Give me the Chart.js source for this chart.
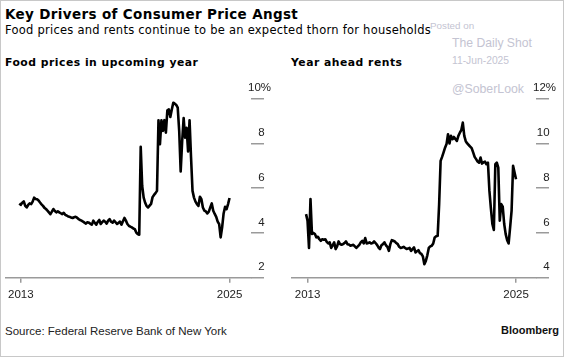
<!DOCTYPE html>
<html>
<head>
<meta charset="utf-8">
<script src="https://cdn.jsdelivr.net/npm/chart.js@4.4.1/dist/chart.umd.min.js"></script>
<style>
  html, body { margin: 0; padding: 0; background: #fff; }
  #wrap { position: relative; width: 564px; height: 357px; box-sizing: border-box; border: 1px solid #c8c8c8; overflow: hidden; background: #fff; }
  .t { position: absolute; white-space: nowrap; }
  #title { left: 4px; top: 5px; font: bold 13.5px/16px "DejaVu Sans"; letter-spacing: 0.35px; color: #000; }
  #sub { left: 4px; top: 21.5px; font: 11.5px/14px "DejaVu Sans"; letter-spacing: 0.25px; color: #000; }
  .ptitle { top: 55px; font: bold 10.8px/13px "DejaVu Sans"; letter-spacing: 0.5px; color: #000; }
  #src { left: 4px; top: 323px; font: 11.5px/14px "Liberation Sans"; color: #222; }
  #bbg { right: 4px; top: 322px; font: bold 11px/14px "Liberation Sans"; color: #111; }
  .wm { color: #c4c4d2; font-family: "Liberation Sans"; }
  canvas { position: absolute; }
</style>
</head>
<body>
<div id="wrap">
  <div class="t" id="title">Key Drivers of Consumer Price Angst</div>
  <div class="t" id="sub">Food prices and rents continue to be an expected thorn for households</div>
  <div class="t ptitle" style="left:4px">Food prices in upcoming year</div>
  <div class="t ptitle" style="left:290px">Year ahead rents</div>
  <div class="t wm" style="left:429px; top:19px; font-size:9.8px; line-height:12px">Posted on</div>
  <div class="t wm" style="left:451px; top:34.5px; font-size:12.2px; line-height:15px">The Daily Shot</div>
  <div class="t wm" style="left:451px; top:53.5px; font-size:10.3px; line-height:12px">11-Jun-2025</div>
  <div class="t wm" style="left:451px; top:81px; font-size:12.3px; line-height:15px">@SoberLook</div>
  <canvas id="food" width="282" height="235" style="left:0px; top:70px; width:282px; height:235px"></canvas>
  <canvas id="rent" width="282" height="235" style="left:282px; top:70px; width:282px; height:235px"></canvas>
  <div class="t" id="src">Source: Federal Reserve Bank of New York</div>
  <div class="t" id="bbg">Bloomberg</div>
</div>
<script>
// Monthly survey readings, Jun 2013 .. 2025 (percent)
const foodValues = [
  5.32, 5.26, 5.35, 5.41, 5.21, 5.14, 5.25, 5.32, 5.29, 5.40,
  5.58, 5.52, 5.51, 5.45, 5.36, 5.28, 5.21, 5.12, 5.07, 5.00,
  4.92, 4.84, 4.95, 5.07, 4.98, 4.92, 4.97, 4.92, 4.88, 4.84,
  4.90, 4.81, 4.78, 4.74, 4.72, 4.69, 4.67, 4.70, 4.72, 4.68,
  4.62, 4.58, 4.55, 4.51, 4.46, 4.42, 4.48, 4.46, 4.41, 4.37,
  4.55, 4.45, 4.37, 4.50, 4.58, 4.40, 4.48, 4.55, 4.50, 4.42,
  4.55, 4.62, 4.50, 4.46, 4.55, 4.48, 4.40, 4.45, 4.51, 4.37,
  4.52, 4.67, 4.55, 4.40, 4.32, 4.28, 4.25, 4.20, 4.17, 4.02,
  3.95, 3.92, 7.85, 6.10, 5.58, 5.35, 5.20, 5.14, 5.22, 5.30,
  5.60, 5.70, 5.78, 5.88, 9.04, 7.97, 9.04, 8.56, 9.04, 8.48,
  9.48, 9.52, 9.18, 9.52, 9.82, 9.78, 9.72, 9.60, 8.56, 6.75,
  8.10, 9.13, 8.26, 8.70, 7.64, 9.04, 7.37, 5.88, 5.58, 5.40,
  5.29, 5.21, 5.62, 5.51, 5.14, 5.00, 4.96, 4.87, 4.95, 5.14,
  5.32, 4.99, 4.85, 4.72, 4.51, 4.39, 3.80, 4.25, 4.87, 5.17,
  5.06, 5.29, 5.56
];
const rentValues = [
  6.84, 6.55, 5.33, 7.51, 5.95, 6.00, 5.95, 5.80, 5.83, 5.72,
  5.65, 5.72, 5.70, 5.72, 5.60, 5.53, 5.58, 5.33, 5.45, 5.58,
  5.28, 5.40, 5.62, 5.50, 5.47, 5.50, 5.55, 5.62, 5.50, 5.48,
  5.43, 5.45, 5.47, 5.40, 5.33, 5.40, 5.47, 5.58, 5.65, 5.53,
  5.77, 5.53, 5.55, 5.58, 5.53, 5.55, 5.62, 5.55, 5.47, 5.35,
  5.28, 5.45, 5.50, 5.58, 5.45, 5.38, 5.20, 5.50, 5.68, 5.65,
  5.62, 5.55, 5.50, 5.38, 5.33, 5.35, 5.38, 5.33, 5.28, 5.30,
  5.33, 5.20, 5.28, 5.35, 5.13, 5.18, 5.23, 5.10, 5.06, 4.95,
  4.60, 4.75, 5.00, 5.33, 5.40, 5.43, 5.53, 5.80, 5.85, 5.87,
  7.29, 9.22, 9.40, 9.60, 9.81, 9.97, 10.41, 10.00, 10.34, 10.19,
  10.29, 10.20, 10.11, 10.34, 10.48, 10.60, 10.93, 10.34, 10.10, 10.00,
  9.93, 9.86, 9.79, 9.60, 9.40, 9.30, 9.19, 9.14, 9.37, 9.10,
  9.15, 9.19, 9.07, 9.14, 7.88, 7.10, 6.40, 6.13, 9.07, 9.14,
  8.92, 6.55, 7.29, 7.18, 6.40, 5.95, 5.68, 5.53, 6.25, 7.00,
  9.00, 8.70, 8.40
];
const xTickLabels = ['2013', '2025'];
const xTickMonths = [1, 142];          // month index (from Jun 2013) of each year label
const foodYTicks = [2, 4, 6, 8, 10];
const rentYTicks = [4, 6, 8, 10, 12];

Chart.defaults.font.family = '"Liberation Sans", Arial, sans-serif';
const AXIS = '#9a9a9a';
const TEXT = '#222';

function makeChart(id, values, yTicks, xMin, xMax, pad) {
  const data = values.map((v, i) => ({ x: i, y: v }));
  return new Chart(document.getElementById(id), {
    type: 'line',
    data: { datasets: [{ data, borderColor: '#000', borderWidth: 2.6, pointRadius: 0, fill: false, tension: 0, borderJoinStyle: 'round' }] },
    options: {
      responsive: false, animation: false, events: [],
      layout: { padding: pad },
      plugins: { legend: { display: false }, tooltip: { enabled: false }, title: { display: false } },
      scales: {
        x: {
          type: 'linear', min: xMin, max: xMax,
          afterBuildTicks: s => { s.ticks = xTickMonths.map(v => ({ value: v })); },
          afterFit: s => { s.height = 25; },
          ticks: { callback: (v, i) => xTickLabels[i], maxRotation: 0, autoSkip: false, padding: 5, color: TEXT, font: { size: 11.5 } },
          grid: { drawOnChartArea: false, drawTicks: true, tickLength: 5, color: AXIS, lineWidth: 1.5 },
          border: { display: true, color: AXIS, width: 1.5 }
        },
        y: {
          type: 'linear', position: 'right', min: yTicks[0], max: yTicks[yTicks.length - 1],
          afterBuildTicks: s => { s.ticks = yTicks.map(v => ({ value: v })); },
          afterFit: s => { s.width = 15; },
          ticks: {
            callback: (v, i, t) => (i === t.length - 1 ? v + '%' : v + '\u2007'),
            mirror: true, crossAlign: 'near', padding: 20,
            labelOffset: -10.5, color: TEXT, font: { size: 11.5 }
          },
          grid: { drawOnChartArea: false, drawTicks: true, tickLength: 13, color: AXIS, lineWidth: 1.5 },
          border: { display: false }
        }
      }
    }
  });
}

makeChart('food', foodValues, foodYTicks, -9.0, 156.5, { left: 5, right: 17, top: 27.7, bottom: 3.3 });
makeChart('rent', rentValues, rentYTicks, -9.5, 155.5, { left: 9, right: 14, top: 27.7, bottom: 3.3 });
</script>
</body>
</html>
